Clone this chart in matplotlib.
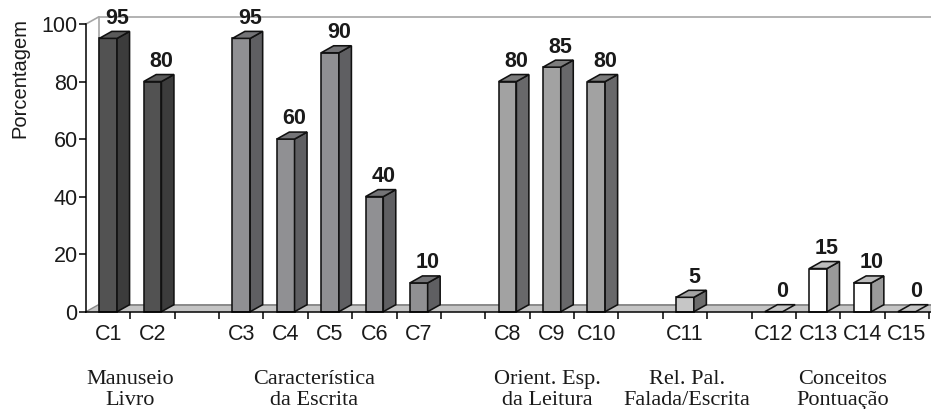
import matplotlib.pyplot as plt
from matplotlib.patches import Polygon
from matplotlib.transforms import blended_transform_factory

# ---- data -------------------------------------------------------------
labels = ['C1', 'C2', 'C3', 'C4', 'C5', 'C6', 'C7', 'C8', 'C9', 'C10',
          'C11', 'C12', 'C13', 'C14', 'C15']
values = [95, 80, 95, 60, 90, 40, 10, 80, 85, 80, 5, 0, 15, 10, 0]
# slot index of each bar (empty slots separate the groups)
slots = [0, 1, 3, 4, 5, 6, 7, 9, 10, 11, 13, 15, 16, 17, 18]
group_of_bar = [0, 0, 1, 1, 1, 1, 1, 2, 2, 2, 3, 4, 4, 4, 4]

group_names = ['Manuseio\nLivro', 'Característica\nda Escrita',
               'Orient. Esp.\nda Leitura', 'Rel. Pal.\nFalada/Escrita',
               'Conceitos\nPontuação']
group_label_x = [1.0, 5.15, 10.4, 13.55, 17.05]

# (front, side, top) shades per group
group_colors = [
    ('#525252', '#3c3c3c', '#5a5a5a'),
    ('#909093', '#5f5f62', '#747477'),
    ('#a2a2a2', '#68686a', '#7c7c7c'),
    ('#c6c6c6', '#6c6c6c', '#a4a4a4'),
    ('#ffffff', '#9a9a9a', '#bdbdbd'),
]

yticks = [0, 20, 40, 60, 80, 100]

# ---- geometry ---------------------------------------------------------
W, H = 931, 409
n_slots = 19
px_per_slot = 44.37
px_per_unit = 2.877
x_end = (W - 86) / px_per_slot
DX = 12.5 / px_per_slot      # depth offset (x, slot units)
DY = 7.0 / px_per_unit       # depth offset (y, value units)
HALF = 0.2                   # half width of the bar front

fig = plt.figure(figsize=(W / 100, H / 100), dpi=100)
ax = fig.add_axes([86 / W, (H - 311.7) / H, (W - 86) / W, 287.7 / H])
ax.set_xlim(0, x_end)
ax.set_ylim(0, 100)
ax.patch.set_visible(False)
for s in ['top', 'right']:
    ax.spines[s].set_visible(False)
ax.spines['left'].set_linewidth(1.1)
ax.spines['bottom'].set_linewidth(1.1)
ax.spines['left'].set_zorder(6)
ax.spines['bottom'].set_zorder(6)

# back wall and floor
wall = '#a6a6a6'
ax.plot([0, DX, x_end + 1], [100, 100 + DY, 100 + DY], color=wall, lw=1.2,
        clip_on=False, zorder=1)
ax.plot([DX, DX], [DY, 100 + DY], color=wall, lw=1.2, clip_on=False, zorder=1)
floor = Polygon([(0, 0), (x_end + 1, 0), (x_end + 1 + DX, DY), (DX, DY)],
                closed=True, facecolor='#c4c4c4', edgecolor='none',
                clip_on=False, zorder=1)
ax.add_patch(floor)
ax.plot([0, DX], [0, DY], color='#8a8a8a', lw=1.0, clip_on=False, zorder=1)
ax.plot([DX, x_end + 1], [DY, DY], color='#8a8a8a', lw=1.4, clip_on=False,
        zorder=1)

# bars
edge = dict(edgecolor='#111111', linewidth=1.15, clip_on=False, zorder=3,
            joinstyle='miter')
for lab, v, s, g in zip(labels, values, slots, group_of_bar):
    front_c, side_c, top_c = group_colors[g]
    c = s + 0.5
    l, r = c - HALF, c + HALF
    if v > 0:
        ax.add_patch(Polygon([(l, 0), (r, 0), (r, v), (l, v)],
                             facecolor=front_c, **edge))
        ax.add_patch(Polygon([(r, 0), (r + DX, DY), (r + DX, v + DY), (r, v)],
                             facecolor=side_c, **edge))
    ax.add_patch(Polygon([(l, v), (r, v), (r + DX, v + DY), (l + DX, v + DY)],
                         facecolor=top_c if v > 0 else '#c4c4c4', **edge))
    ax.text(r, v + DY + 0.9, str(v), ha='center', va='bottom',
            fontsize=15.5, fontweight='bold', family='Liberation Sans',
            color='#1a1a1a', zorder=5)

# axes ticks
ax.set_yticks(yticks)
ax.set_yticklabels([str(t) for t in yticks], family='Liberation Sans',
                   fontsize=15.5, color='#1a1a1a')
ax.tick_params(axis='y', direction='out', length=5, width=1.1, pad=1)
ax.set_xticks(range(1, n_slots + 1))
ax.set_xticklabels([])
ax.tick_params(axis='x', which='major', direction='out', length=5, width=1.1)
ax.set_xticks([s + 0.5 for s in slots], minor=True)
ax.set_xticklabels(labels, minor=True, family='Liberation Sans',
                   fontsize=15.5, color='#1a1a1a')
ax.tick_params(axis='x', which='minor', length=0, pad=9)

fig.text(19.5 / W, 1 - 77.5 / H, 'Porcentagem', rotation=90, ha='center',
         va='center', fontsize=14.5, family='Liberation Sans', color='#1a1a1a')

# group captions under the category labels
tr = blended_transform_factory(ax.transData, fig.transFigure)
for name, gx in zip(group_names, group_label_x):
    ax.text(gx, 1 - 390 / H, name, transform=tr, ha='center', va='center',
            fontsize=16, family='Liberation Serif', color='#1a1a1a',
            linespacing=1.1, clip_on=False)

fig.savefig('out.png', dpi=100)
